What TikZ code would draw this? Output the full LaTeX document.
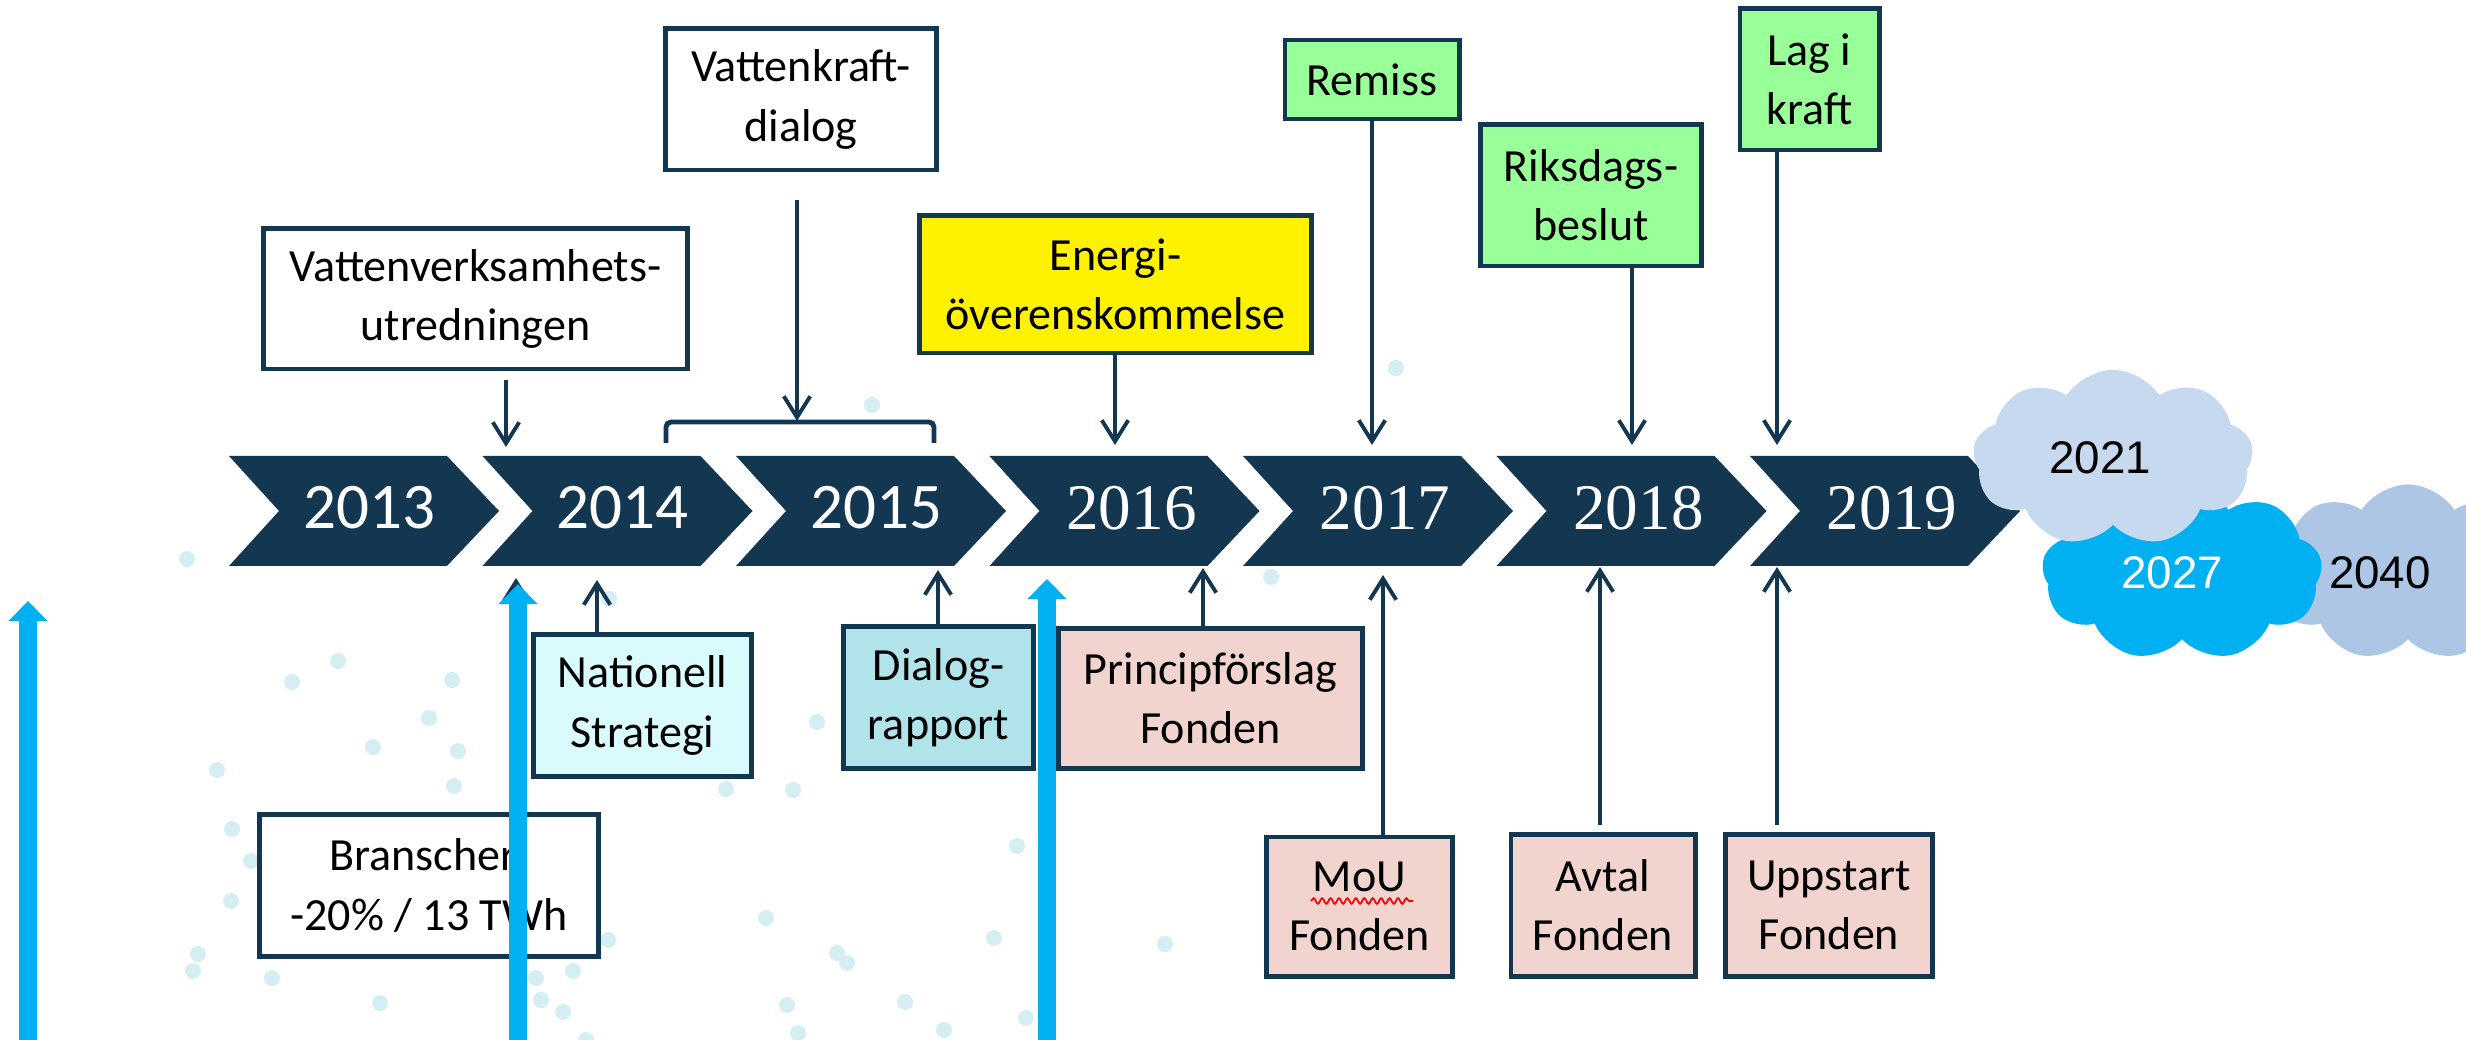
\documentclass[tikz,border=0pt]{standalone}
\usepackage{fontspec}
\setmainfont{Carlito}
\newfontfamily\yrserif{Liberation Serif}
\newfontfamily\arialf{Liberation Sans}
\usetikzlibrary{arrows.meta,shapes.symbols,decorations.pathmorphing,calc}
\definecolor{tlnavy}{HTML}{133751}
\definecolor{cyanb}{HTML}{00B0F0}
\definecolor{dotc}{HTML}{D4EEF3}
\definecolor{fillna}{HTML}{DAFBFD}
\definecolor{filldi}{HTML}{B1E4EA}
\definecolor{fillpk}{HTML}{F2D4CF}
\definecolor{fillgr}{HTML}{99FF99}
\definecolor{cl21}{HTML}{C7D9EE}
\definecolor{cl40}{HTML}{ADC6E5}
\begin{document}
\begin{tikzpicture}[x=0.01cm,y=-0.01cm,
  box/.style={draw=tlnavy, line width=1.4pt, align=center, inner sep=0pt,
    font=\fontsize{13.1pt}{16.8pt}\selectfont},
  conn/.style={draw=tlnavy, line width=1.1pt, -{Straight Barb[length=6pt,width=7.5pt]}},
  bluearr/.style={draw=cyanb, line width=5.1pt, -{Triangle[length=5.7pt,width=10.8pt]}},
  yearlbl/.style={text=white, inner sep=0pt, font=\fontsize{18.5pt}{20pt}\selectfont},
  yearser/.style={yearlbl, font=\yrserif\fontsize{18.5pt}{20pt}\selectfont},
  cloudn/.style={cloud, cloud puffs=9, cloud puff arc=115, cloud ignores aspect,
    inner sep=0pt, minimum width=2.8cm, minimum height=1.76cm,
    font=\arialf\fontsize{13pt}{15pt}\selectfont},
  dot/.style={fill=dotc}
]
\useasboundingbox (0,0) rectangle (2466,1040);

% background dots
\foreach \p in {(187,559),(338,661),(292,682),(452,680),(429,718),(373,747),(458,751),
  (217,770),(454,786),(232,829),(251,861),(231,901),(198,954),(193,971),(272,978),
  (380,1003),(608,940),(573,971),(536,978),(541,1000),(563,1012),(609,599),(817,722),
  (726,789),(793,790),(1017,846),(766,918),(837,953),(847,963),(994,938),(787,1005),
  (905,1002),(1026,1018),(944,1030),(798,1033),(586,1040),(1271,577),(1165,944),
  (872,405),(1396,368)}
  \fill[dot] \p circle[radius=0.08cm];

% chevrons
\foreach \i in {0,...,6}{
  \pgfmathsetmacro{\L}{229+253.5*\i}
  \fill[tlnavy] (\L,456) -- ({\L+218},456) -- ({\L+270},511) -- ({\L+218},566)
    -- (\L,566) -- ({\L+50},511) -- cycle;
}
\node[yearlbl] (y2013) at (369,508) {2013};
\node[yearlbl] (y2014) at (622.5,508) {2014};
\node[yearlbl] (y2015) at (876,508) {2015};
\node[yearser] (y2016) at (1131.5,508) {2016};
\node[yearser] (y2017) at (1385,508) {2017};
\node[yearser] (y2018) at (1638.5,508) {2018};
\node[yearser] (y2019) at (1892,508) {2019};

% clouds
\node[cloudn, fill=cl40] (c2040) at (2408,572.5) {2040\kern0.56cm};
\node[cloudn, fill=cyanb, text=white] (c2027) at (2182,572.5) {2027\kern0.2cm};
\node[cloudn, fill=cl21] (c2021) at (2113,458) {2021\kern0.26cm};

% boxes above
\node[box, fill=white, minimum width=4.23cm, minimum height=1.40cm] (VV) at (475.5,299) {Vattenverksamhets-\\utredningen};
\node[box, fill=white, minimum width=2.70cm, minimum height=1.41cm] (VK) at (801,99.5) {Vattenkraft-\\dialog};
\node[box, fill=yellow, minimum width=3.91cm, minimum height=1.37cm] (EN) at (1115.5,284.5) {Energi-\\överenskommelse};
\node[box, fill=fillgr, minimum width=1.74cm, minimum height=0.79cm] (RE) at (1372,79.5) {Remiss};
\node[box, fill=fillgr, minimum width=2.20cm, minimum height=1.41cm] (RI) at (1591,195.5) {Riksdags-\\beslut};
\node[box, fill=fillgr, minimum width=1.39cm, minimum height=1.41cm] (LA) at (1809.5,79.5) {Lag i\\kraft};

% boxes below
\node[box, fill=fillna, minimum width=2.17cm, minimum height=1.41cm] (NA) at (642.5,705.5) {Nationell\\Strategi};
\node[box, fill=filldi, minimum width=1.89cm, minimum height=1.41cm] (DI) at (938.5,697.5) {Dialog-\\rapport};
\node[box, fill=fillpk, minimum width=3.03cm, minimum height=1.39cm] (PR) at (1210.5,698.5) {Principförslag\\Fonden};
\node[box, fill=fillpk, minimum width=1.85cm, minimum height=1.39cm] (MO) at (1359.5,906.5) {MoU\\Fonden};
\node[box, fill=fillpk, minimum width=1.84cm, minimum height=1.41cm] (AV) at (1603,905.5) {Avtal\\Fonden};
\node[box, fill=fillpk, minimum width=2.06cm, minimum height=1.41cm] (UP) at (1829,905.5) {Uppstart\\Fonden};
\node[box, fill=white, minimum width=3.38cm, minimum height=1.41cm] (BR) at (429,885.5) {Branscher:\\-20\% / 13 TWh};

% spell-check squiggle under MoU
\draw[red, line width=0.5pt, decorate, decoration={snake, amplitude=0.8pt, segment length=2.4pt}] (1311,901) -- (1413,901);

% bracket over 2014-2015
\draw[tlnavy, line width=1.4pt, rounded corners=0.05cm] (666,443) -- (666,422) -- (934,422) -- (934,443);
\coordinate (brk) at (797,421);

% arrow end points on the chevrons
\coordinate (t14) at (506,447);
\coordinate (t16) at (1115,445);
\coordinate (t17) at (1372,445);
\coordinate (t18) at (1632,445);
\coordinate (t19) at (1777,445);
\coordinate (b14) at (597,580);
\coordinate (b14h) at (516,578);
\coordinate (b15) at (938,570);
\coordinate (b16) at (1203,568);
\coordinate (b17) at (1383,575);
\coordinate (b18) at (1600,567);
\coordinate (b19) at (1777,567);

% connectors
\draw[conn, shorten <=0.08cm] (VV.south -| t14) -- (t14);
\draw[conn, shorten <=0.27cm] (VK.south -| brk) -- (brk);
\draw[conn] (EN.south -| t16) -- (t16);
\draw[conn] (RE.south -| t17) -- (t17);
\draw[conn] (RI.south -| t18) -- (t18);
\draw[conn] (LA.south -| t19) -- (t19);
\draw[conn] (NA.north -| b14) -- (b14);
\draw[conn] (BR.north -| b14h) -- (b14h);
\draw[conn] (DI.north -| b15) -- (b15);
\draw[conn] (PR.north -| b16) -- (b16);
\draw[conn] (MO.north -| b17) -- (b17);
\draw[conn, shorten <=0.07cm] (AV.north -| b18) -- (b18);
\draw[conn, shorten <=0.07cm] (UP.north -| b19) -- (b19);

% blue arrows
\coordinate (bl1s) at (28,1050);  \coordinate (bl1e) at (28,601);
\coordinate (bl2s) at (518,1050); \coordinate (bl2e) at (518,584);
\coordinate (bl3s) at (1047,1050);\coordinate (bl3e) at (1047,579);
\draw[bluearr] (bl1s) -- (bl1e);
\draw[bluearr] (bl2s) -- (bl2e);
\draw[bluearr] (bl3s) -- (bl3e);
\end{tikzpicture}
\end{document}
